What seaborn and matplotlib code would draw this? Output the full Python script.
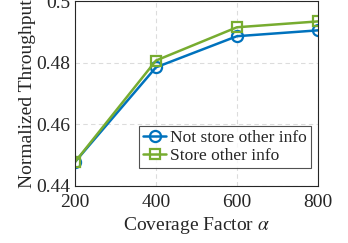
import matplotlib
matplotlib.use('Agg')
import numpy as np
import pandas as pd
import seaborn as sns
import matplotlib.pyplot as plt

coverage = [200, 400, 600, 800]
not_store = [0.4478, 0.4785, 0.4886, 0.4905]
store = [0.4478, 0.4807, 0.4915, 0.4934]
names = ["Not store other info", "Store other info"]
colors = ["#0072BD", "#77AC30"]
markers = ["o", "s"]
msizes = [8, 6.5]

sns.set_style("white")
plt.rcParams['font.family'] = ['Liberation Serif', 'DejaVu Serif']
plt.rcParams['mathtext.fontset'] = 'stix'

fig = plt.figure(figsize=(3.48, 2.43), dpi=100)
ax = fig.add_axes([0.2155, 0.2346, 0.698, 0.761])

for vals, name, c, m, ms in zip([not_store, store], names, colors, markers, msizes):
    sns.lineplot(x=coverage, y=vals, color=c, marker=m, markersize=ms,
                 markerfacecolor="none", markeredgecolor=c, markeredgewidth=1.6,
                 linewidth=1.8, label=name, ax=ax)

ax.set_xlim(200, 800)
ax.set_ylim(0.44, 0.5)
ax.set_xticks([200, 400, 600, 800])
ax.set_yticks([0.44, 0.46, 0.48, 0.5])
ax.set_yticklabels(["0.44", "0.46", "0.48", "0.5"])
ax.grid(True, linestyle=(0, (4, 3)), color="#dcdcdc", linewidth=0.8)
ax.tick_params(direction="in", labelsize=14, colors="#262626", length=3)
ax.tick_params(axis="x", pad=6)
for s in ax.spines.values():
    s.set_color("#262626")
    s.set_linewidth(0.8)
ax.set_xlabel(r"Coverage Factor $\alpha$", fontsize=14, color="#262626", labelpad=3)
ax.set_ylabel("Normalized Throughput", fontsize=14, color="#262626", labelpad=0)

leg = ax.legend(loc="lower right", bbox_to_anchor=(0.97, 0.095), fontsize=12.5,
                frameon=True, fancybox=False, edgecolor="#262626",
                handlelength=1.3, handletextpad=0.2, borderpad=0.25,
                labelspacing=0.1, borderaxespad=0)
leg.get_frame().set_linewidth(0.8)

fig.savefig("out.png", dpi=100)
